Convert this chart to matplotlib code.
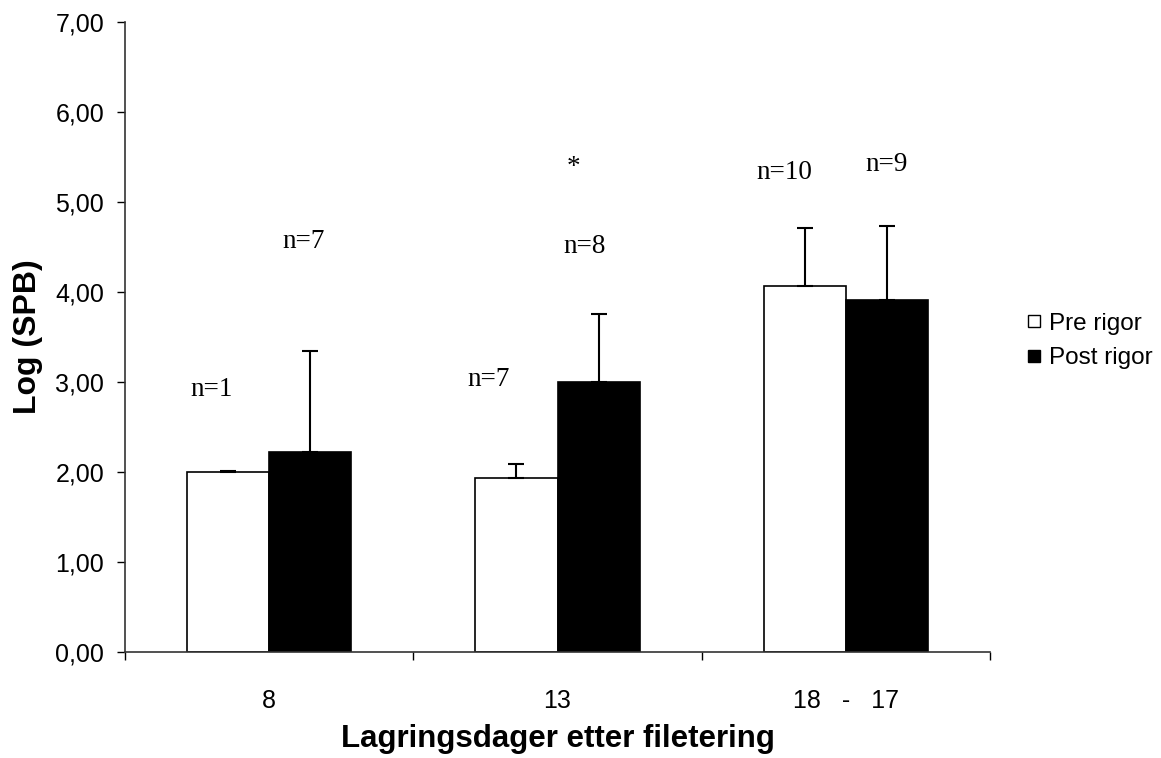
import numpy as np
import matplotlib.pyplot as plt
from matplotlib.lines import Line2D

# values
categories = ["8", "13", "18   -   17"]
pre_rigor = [2.00, 1.93, 4.07]
pre_err = [0.01, 0.16, 0.64]
post_rigor = [2.22, 3.00, 3.91]
post_err = [1.12, 0.76, 0.82]

# n labels and significance mark (text, x, y in data units)
notes = [("n=1", 0.299, 2.92), ("n=7", 0.618, 4.56),
         ("n=7", 1.260, 3.03), ("*", 1.556, 5.38), ("n=8", 1.594, 4.51),
         ("n=10", 2.285, 5.33), ("n=9", 2.642, 5.42)]

plt.rcParams['font.family'] = ['Liberation Sans', 'DejaVu Sans']

fig = plt.figure(figsize=(11.61, 7.58), dpi=100)
ax = fig.add_axes([125 / 1161, 106 / 758, 865 / 1161, 630 / 758])

x = np.arange(len(categories)) + 0.5
w = 0.285
err_kw = dict(elinewidth=1.5, capsize=5.5, capthick=1.5, ecolor="black")

ax.bar(x - w / 2, pre_rigor, w, color="white", edgecolor="black", linewidth=1.2,
       yerr=[np.zeros(3), pre_err], error_kw=err_kw, zorder=2)
ax.bar(x + w / 2, post_rigor, w, color="black", edgecolor="black", linewidth=1.2,
       yerr=[np.zeros(3), post_err], error_kw=err_kw, zorder=2)

for txt, tx, ty in notes:
    ax.text(tx, ty, txt, ha="center", va="center", fontsize=19.5,
            family=["Liberation Serif", "DejaVu Serif"])

ax.set_xlim(0, 3)
ax.set_ylim(0, 7)
ax.set_yticks(np.arange(0, 8, 1))
ax.set_yticklabels([f"{v:.2f}".replace(".", ",") for v in np.arange(0, 8, 1)])
ax.set_xticks([0, 1, 2, 3])
ax.set_xticklabels([])
ax.set_xticks(x, minor=True)
ax.set_xticklabels(categories, minor=True)
ax.tick_params(axis="x", which="minor", length=0, pad=27, labelsize=18)
ax.tick_params(axis="x", which="major", length=6, width=1, direction="out")
ax.tick_params(axis="y", length=6, width=1, pad=9, labelsize=18)

for s in ["top", "right"]:
    ax.spines[s].set_visible(False)
for s in ["left", "bottom"]:
    ax.spines[s].set_linewidth(1.2)
    ax.spines[s].set_color("#333333")

ax.set_xlabel("Lagringsdager etter filetering", fontsize=22.5, fontweight="bold")
ax.set_ylabel("Log (SPB)", fontsize=23, fontweight="bold")
ax.xaxis.set_label_coords(0.5, -0.115)
ax.yaxis.set_label_coords(-0.095, 0.5)

handles = [Line2D([], [], marker="s", linestyle="none", markersize=9,
                  markerfacecolor="white", markeredgecolor="black", markeredgewidth=1),
           Line2D([], [], marker="s", linestyle="none", markersize=9,
                  markerfacecolor="black", markeredgecolor="black")]
fig.legend(handles, ["Pre rigor", "Post rigor"], loc="center left",
           bbox_to_anchor=(1015 / 1161, (758 - 341) / 758), frameon=False,
           fontsize=17.5, handlelength=0.6, handletextpad=0.3, labelspacing=0.5,
           borderpad=0)

fig.savefig("out.png", dpi=100)
